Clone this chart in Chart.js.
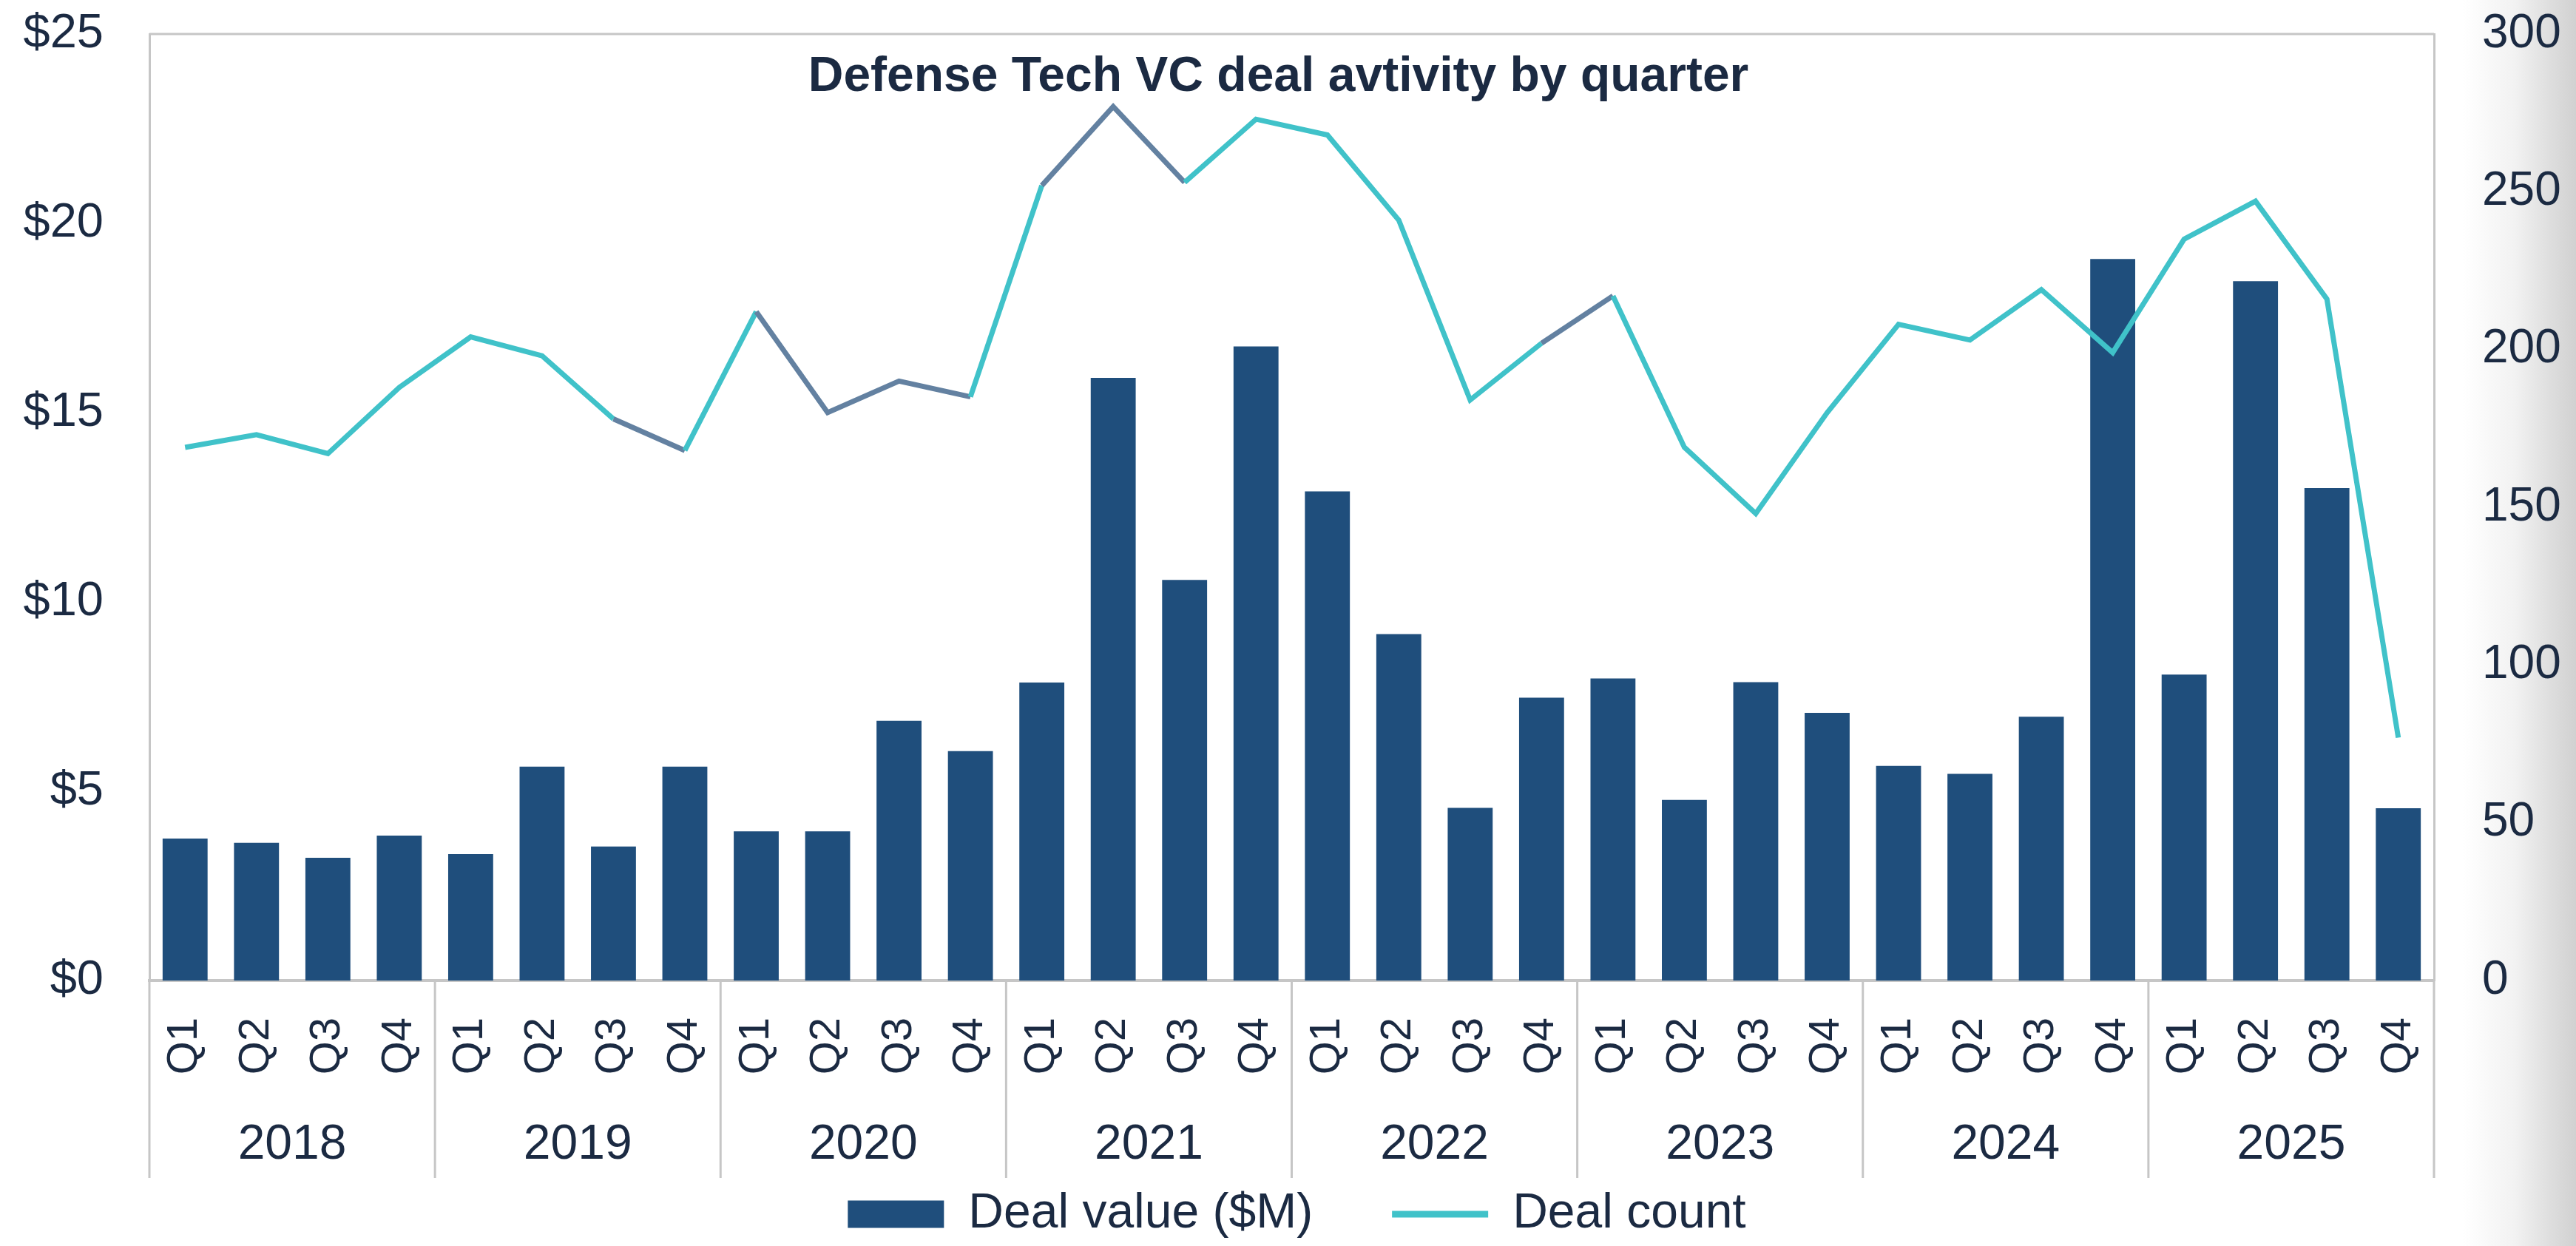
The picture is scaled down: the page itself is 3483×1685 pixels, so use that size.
<!DOCTYPE html>
<html>
<head>
<meta charset="utf-8">
<title>Defense Tech VC deal avtivity by quarter</title>
<script src="https://cdn.jsdelivr.net/npm/chart.js@4.4.1/dist/chart.umd.min.js"></script>
<style>
  html, body { margin: 0; padding: 0; }
  body {
    width: 3483px;
    height: 1685px;
    overflow: hidden;
    background: linear-gradient(to right, #ffffff 0, #ffffff 3330px, #f2f2f2 3400px, #dddddd 3450px, #d1d1d1 3483px);
  }
  #wrap { position: relative; width: 3483px; height: 1685px; }
</style>
</head>
<body>
<div id="wrap"><canvas id="dealChart"></canvas></div>
<script>
// categories
const years = ['2018', '2019', '2020', '2021', '2022', '2023', '2024', '2025'];
const quarters = ['Q1', 'Q2', 'Q3', 'Q4'];
const quarterLabels = years.flatMap(() => quarters);

// series
const dealValue = [
  3.75, 3.64, 3.24, 3.83,
  3.34, 5.65, 3.54, 5.65,
  3.94, 3.94, 6.86, 6.06,
  7.87, 15.92, 10.58, 16.75,
  12.92, 9.15, 4.56, 7.47,
  7.98, 4.77, 7.88, 7.07,
  5.67, 5.46, 6.97, 19.06,
  8.08, 18.47, 13.01, 4.55
];
const dealCount = [
  169, 173, 167, 188,
  204, 198, 178, 168,
  212, 180, 190, 185,
  252, 277, 253, 273,
  268, 241, 184, 202,
  217, 169, 148, 180,
  208, 203, 219, 199,
  235, 247, 216, 77
];

// axes
const valueMax = 25, valueStep = 5;
const countMax = 300, countStep = 50;

const titleText = 'Defense Tech VC deal avtivity by quarter';

// styling
const barColor = '#1f4e7c';
const lineColor = '#40c2c9';
const slateColor = '#6381a1';
const textColor = '#1b2a42';
const frameColor = '#c6c6c6';
const slateSegments = [6, 8, 9, 10, 12, 13, 19]; // segments drawn in the darker tone
const yearRowDepth = 267;

Chart.defaults.font.family = '"Liberation Sans", Arial, sans-serif';
Chart.defaults.color = textColor;

const framePlugin = {
  id: 'frame',
  afterDraw(chart) {
    const { ctx, chartArea } = chart;
    const x = chart.scales.x;
    const half = (x.getPixelForValue(1) - x.getPixelForValue(0)) / 2;
    ctx.save();
    ctx.strokeStyle = frameColor;
    ctx.lineWidth = 3;
    ctx.beginPath();
    ctx.moveTo(chartArea.left, chartArea.top);
    ctx.lineTo(chartArea.right, chartArea.top);
    for (let k = 0; k <= years.length; k++) {
      const px = k < years.length
        ? x.getPixelForValue(k * 4) - half
        : x.getPixelForValue(quarterLabels.length - 1) + half;
      ctx.moveTo(px, chartArea.bottom);
      ctx.lineTo(px, chartArea.bottom + yearRowDepth);
    }
    ctx.stroke();

    // title sits inside the plot area
    ctx.fillStyle = textColor;
    ctx.font = 'bold 66px "Liberation Sans", Arial, sans-serif';
    ctx.textAlign = 'center';
    ctx.textBaseline = 'alphabetic';
    ctx.fillText(titleText, (chartArea.left + chartArea.right) / 2 - 18, chartArea.top + 77);
    ctx.restore();
  }
};

const ctx = document.getElementById('dealChart').getContext('2d');
const dealChart = new Chart(ctx, {
  type: 'bar',
  data: {
    labels: quarterLabels,
    datasets: [
      {
        type: 'bar',
        label: 'Deal value ($M)',
        data: dealValue,
        backgroundColor: barColor,
        borderWidth: 0,
        categoryPercentage: 1,
        barPercentage: 0.63,
        yAxisID: 'y',
        order: 1
      },
      {
        type: 'line',
        label: 'Deal count',
        data: dealCount,
        borderColor: lineColor,
        backgroundColor: lineColor,
        borderWidth: 7,
        tension: 0,
        pointRadius: 0,
        pointHoverRadius: 0,
        yAxisID: 'y1',
        order: 0,
        segment: {
          borderColor: c => slateSegments.includes(c.p0DataIndex) ? slateColor : lineColor
        }
      }
    ]
  },
  options: {
    responsive: true,
    maintainAspectRatio: false,
    animation: false,
    layout: {
      padding: { top: 46, left: 24, right: 0, bottom: 0 }
    },
    scales: {
      x: {
        offset: true,
        grid: { display: false, drawTicks: false },
        border: { display: true, color: frameColor, width: 4 },
        ticks: {
          autoSkip: false,
          minRotation: 90,
          maxRotation: 90,
          padding: 50,
          font: { size: 58 },
          color: textColor
        },
        afterFit: s => { s.height = 155; s.paddingLeft = 0; s.paddingRight = 0; }
      },
      x2: {
        type: 'category',
        labels: years,
        position: 'bottom',
        offset: true,
        weight: 1,
        grid: { display: false, drawTicks: false },
        border: { display: false },
        ticks: {
          autoSkip: false,
          maxRotation: 0,
          mirror: true,   // keeps the labels unclipped below the thin axis box
          padding: -107,
          font: { size: 66 },
          color: textColor
        },
        afterFit: s => { s.height = 21; s.paddingLeft = 0; s.paddingRight = 0; }
      },
      y: {
        position: 'left',
        min: 0,
        max: valueMax,
        grid: { display: false, drawTicks: false },
        border: { display: true, color: frameColor, width: 3 },
        ticks: {
          stepSize: valueStep,
          padding: 62,
          font: { size: 65 },
          color: textColor,
          callback: v => '$' + v
        },
        afterFit: s => { s.width = 178; s.paddingTop = 0; s.paddingBottom = 0; }
      },
      y1: {
        position: 'right',
        min: 0,
        max: countMax,
        grid: { display: false, drawTicks: false },
        border: { display: true, color: frameColor, width: 3 },
        ticks: {
          stepSize: countStep,
          padding: 65,
          font: { size: 64 },
          color: textColor
        },
        afterFit: s => { s.width = 192; s.paddingTop = 0; s.paddingBottom = 0; }
      }
    },
    plugins: {
      tooltip: { enabled: false },
      legend: {
        position: 'bottom',
        labels: {
          usePointStyle: true,
          pointStyleWidth: 130,
          boxHeight: 37,
          padding: 107,
          color: textColor,
          font: { size: 66 },
          generateLabels(chart) {
            const items = Chart.defaults.plugins.legend.labels.generateLabels(chart)
              .sort((a, b) => a.datasetIndex - b.datasetIndex);
            items[0].pointStyle = 'rect';
            items[0].fillStyle = barColor;
            items[0].lineWidth = 0;
            items[1].pointStyle = 'line';
            items[1].strokeStyle = lineColor;
            items[1].lineWidth = 9;
            return items;
          }
        }
      }
    }
  },
  plugins: [framePlugin]
});
</script>
</body>
</html>
